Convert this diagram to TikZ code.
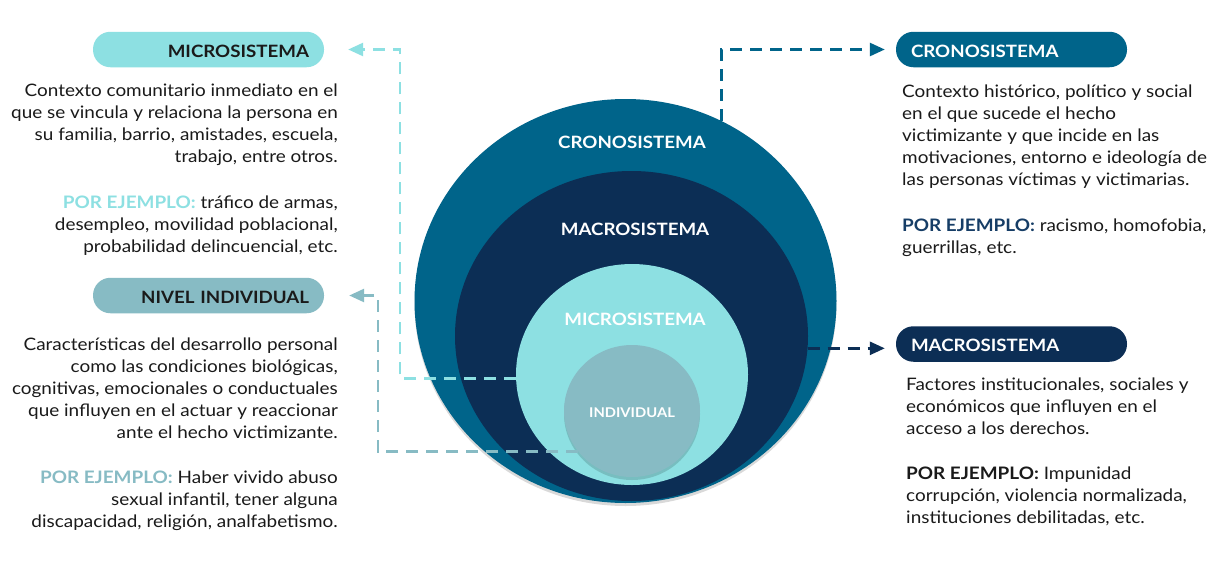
\documentclass[tikz,border=0pt]{standalone}
\usepackage{fontspec}
\setmainfont{Lato}[FakeStretch=1.1]
\usetikzlibrary{arrows.meta,shapes.geometric,shadows}
\definecolor{cronoc}{HTML}{00648A}
\definecolor{macroc}{HTML}{0C2E55}
\definecolor{microc}{HTML}{8DE0E2}
\definecolor{indivc}{HTML}{87BBC4}
\definecolor{txt}{HTML}{1A1A1A}
\definecolor{pornavy}{HTML}{163D66}
\begin{document}
\begin{tikzpicture}[x=1pt,y=-1pt,
 ring/.style={ellipse, inner sep=0pt, draw=none},
 ringlabel/.style={font=\fontsize{17}{20}\selectfont\bfseries, text=white, anchor=base, inner sep=0pt},
 pill/.style={rounded corners=17.5pt, minimum width=231pt, minimum height=35.5pt, inner xsep=15pt, inner ysep=0pt, text width=201pt, text height=15pt, text depth=0pt, font=\fontsize{17}{20}\selectfont\bfseries},
 para/.style={font=\fontsize{17.2}{22}\selectfont, text=txt, inner sep=0pt},
 conn/.style={line width=2.6pt, dash pattern=on 12pt off 8pt, -{Triangle[length=15pt,width=13pt]}},
 shad/.style={drop shadow={shadow xshift=0pt, shadow yshift=-3pt, opacity=0.15, fill=black}},
]
\useasboundingbox[fill=white] (0,0) rectangle (1232,560);

% rings
\node[ring, fill=cronoc, minimum width=422pt, minimum height=404pt, shad] (crono) at (625.5,301) {};
\node[ring, fill=macroc, minimum width=353pt, minimum height=330pt] (macro) at (631.5,336) {};
\node[ring, fill=microc, minimum width=232pt, minimum height=221pt] (micro) at (632,374.5) {};
\node[ring, fill=indivc, minimum width=136pt, minimum height=132pt, shad] (indiv) at (632,411) {};

\node[ringlabel] (lcrono) at (632,148) {CRONOSISTEMA};
\node[ringlabel] (lmacro) at (635,235) {MACROSISTEMA};
\node[ringlabel] (lmicro) at (635,325) {MICROSISTEMA};
\node[ringlabel, font=\fontsize{13.4}{16}\selectfont\bfseries] (lindiv) at (632,417) {INDIVIDUAL};

% pills
\node[pill, fill=microc, align=right, text=txt] (pmicro) at (208.5,49.5) {MICROSISTEMA};
\node[pill, fill=indivc, align=right, text=txt] (pind) at (208.5,295.5) {NIVEL INDIVIDUAL};
\node[pill, fill=cronoc, align=left, text=white] (pcrono) at (1011.5,49.5) {CRONOSISTEMA};
\node[pill, fill=macroc, align=left, text=white] (pmacro) at (1011.5,344) {MACROSISTEMA};

% connectors
\coordinate (mt) at (400,49.5);
\coordinate (it) at (378,295.5);
\draw[conn, microc] (micro.182) -| (mt) -- (pmicro.east) [shorten >=24pt];
\draw[conn, indivc] (indiv.217) -| (it) -- (pind.east) [shorten >=25pt];
\draw[conn, cronoc] (crono.62) |- (pcrono.west) [shorten >=11pt];
\draw[conn, macroc] (macro.-4) -- (macro.-4 -| pmacro.west) [shorten >=11pt];

% left texts (base anchor = last line)
\node[para, align=right, anchor=base east] (tmicro) at (338,162) {Contexto comunitario inmediato en el\\que se vincula y relaciona la persona en\\su familia, barrio, amistades, escuela,\\trabajo, entre otros.};
\node[para, align=right, anchor=base east] (emicro) at (338,252) {{\bfseries\color{microc}POR EJEMPLO:} tráfico de armas,\\desempleo, movilidad poblacional,\\probabilidad delincuencial, etc.};
\node[para, align=right, anchor=base east] (tind) at (338,438) {Características del desarrollo personal\\como las condiciones biológicas,\\cognitivas, emocionales o conductuales\\que influyen en el actuar y reaccionar\\ante el hecho victimizante.};
\node[para, align=right, anchor=base east] (eind) at (338,527) {{\bfseries\color{indivc}POR EJEMPLO:} Haber vivido abuso\\sexual infantil, tener alguna\\discapacidad, religión, analfabetismo.};

% right texts
\node[para, align=left, anchor=base west] (tcrono) at (902,185) {Contexto histórico, político y social\\en el que sucede el hecho\\victimizante y que incide en las\\motivaciones, entorno e ideología de\\las personas víctimas y victimarias.};
\node[para, align=left, anchor=base west] (ecrono) at (902,253) {{\bfseries\color{pornavy}POR EJEMPLO:} racismo, homofobia,\\guerrillas, etc.};
\node[para, align=left, anchor=base west] (tmacro) at (906,434) {Factores institucionales, sociales y\\económicos que influyen en el\\acceso a los derechos.};
\node[para, align=left, anchor=base west] (emacro) at (906,523) {{\bfseries POR EJEMPLO:} Impunidad\\corrupción, violencia normalizada,\\instituciones debilitadas, etc.};
\end{tikzpicture}
\end{document}
